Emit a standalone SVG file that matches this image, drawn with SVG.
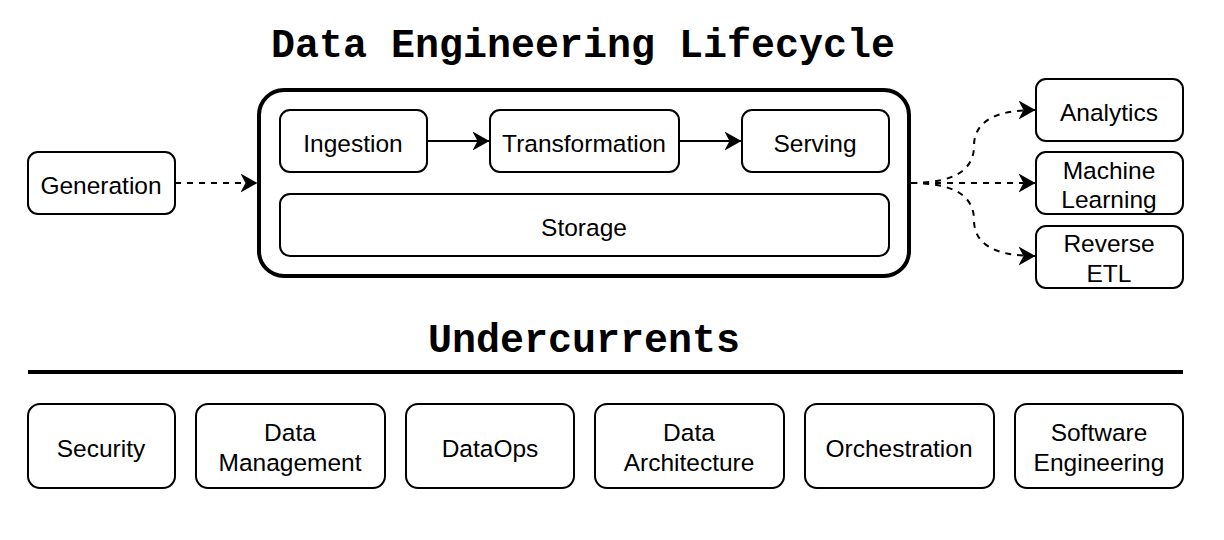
<svg xmlns="http://www.w3.org/2000/svg" width="1224" height="540" viewBox="0 0 1224 540">
<style>
.box{fill:#fff;stroke:#000;stroke-width:2}
.lbl{font-family:"Liberation Sans",Arial,sans-serif;font-size:24.5px;fill:#000;text-anchor:middle}
.ttl{font-family:"Liberation Mono","Courier New",monospace;font-weight:bold;font-size:40px;fill:#000;text-anchor:middle}
.edge{fill:none;stroke:#000;stroke-width:2}
.dash{stroke-dasharray:6 6}
</style>
<defs>
<marker id="arr" markerUnits="userSpaceOnUse" markerWidth="17" markerHeight="19" viewBox="0 0 17 19" refX="16.5" refY="9.5" orient="auto">
<path d="M0,0 L17,9.5 L0,19 L5,9.5 Z" fill="#000"/>
</marker>
</defs>
<rect width="1224" height="540" fill="#fff"/>
<text class="ttl" x="583" y="57">Data Engineering Lifecycle</text>
<text class="ttl" x="584" y="352">Undercurrents</text>
<line x1="28" y1="372" x2="1183" y2="372" stroke="#000" stroke-width="4"/>

<g id="lifecycle">
<rect x="259" y="90" width="650" height="186" rx="25" fill="#fff" stroke="#000" stroke-width="4"/>
</g>
<g id="generation"><rect class="box" x="28" y="152" width="147" height="62" rx="10"/><text class="lbl" x="101" y="194">Generation</text></g>
<g id="ingestion"><rect class="box" x="280" y="110" width="147" height="62" rx="10"/><text class="lbl" x="353" y="152">Ingestion</text></g>
<g id="transformation"><rect class="box" x="490" y="110" width="189" height="62" rx="10"/><text class="lbl" x="584" y="152">Transformation</text></g>
<g id="serving"><rect class="box" x="742" y="110" width="147" height="62" rx="10"/><text class="lbl" x="815" y="152">Serving</text></g>
<g id="storage"><rect class="box" x="280" y="194" width="609" height="62" rx="10"/><text class="lbl" x="584" y="236">Storage</text></g>
<g id="analytics"><rect class="box" x="1036" y="79" width="147" height="62" rx="10"/><text class="lbl" x="1109" y="121">Analytics</text></g>
<g id="ml"><rect class="box" x="1036" y="152" width="147" height="62" rx="10"/><text class="lbl" x="1109" y="179">Machine</text><text class="lbl" x="1109" y="208">Learning</text></g>
<g id="retl"><rect class="box" x="1036" y="226" width="147" height="62" rx="10"/><text class="lbl" x="1109" y="252">Reverse</text><text class="lbl" x="1109" y="282">ETL</text></g>

<g id="security"><rect class="box" x="28" y="404" width="147" height="84" rx="12"/><text class="lbl" x="101" y="457">Security</text></g>
<g id="data-management"><rect class="box" x="196" y="404" width="189" height="84" rx="12"/><text class="lbl" x="290" y="441">Data</text><text class="lbl" x="290" y="471">Management</text></g>
<g id="dataops"><rect class="box" x="406" y="404" width="168" height="84" rx="12"/><text class="lbl" x="490" y="457">DataOps</text></g>
<g id="data-architecture"><rect class="box" x="595" y="404" width="189" height="84" rx="12"/><text class="lbl" x="689" y="441">Data</text><text class="lbl" x="689" y="471">Architecture</text></g>
<g id="orchestration"><rect class="box" x="805" y="404" width="189" height="84" rx="12"/><text class="lbl" x="899" y="457">Orchestration</text></g>
<g id="software-engineering"><rect class="box" x="1015" y="404" width="168" height="84" rx="12"/><text class="lbl" x="1099" y="441">Software</text><text class="lbl" x="1099" y="471">Engineering</text></g>

<g id="connectors">
<path class="edge dash" d="M175,183 L257,183" marker-end="url(#arr)"/>
<path class="edge" d="M427,141 L489,141" marker-end="url(#arr)"/>
<path class="edge" d="M679,141 L741,141" marker-end="url(#arr)"/>
<path class="edge dash" d="M911,183 Q974,183 974,146 Q974,110 1035,110" marker-end="url(#arr)"/>
<path class="edge dash" d="M911,183 L1035,183" marker-end="url(#arr)"/>
<path class="edge dash" d="M911,183 Q974,183 974,220 Q974,256 1035,256" marker-end="url(#arr)"/>
</g>
</svg>
